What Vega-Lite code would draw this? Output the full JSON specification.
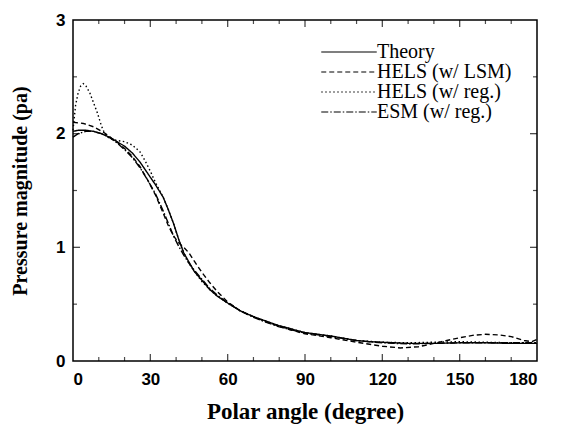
{
  "$schema": "https://vega.github.io/schema/vega-lite/v6.json",
  "width": 464,
  "height": 341,
  "autosize": "none",
  "padding": {"left": 73, "top": 20, "right": 25, "bottom": 65},
  "config": {
    "view": {"stroke": "black", "strokeWidth": 1.5},
    "axis": {"domain": false, "ticks": false, "grid": false, "labelColor": "black", "titleColor": "black"}
  },
  "datasets": {
    "xmajor": [{"v": 30}, {"v": 60}, {"v": 90}, {"v": 120}, {"v": 150}],
    "xminor": [{"v": 10}, {"v": 20}, {"v": 40}, {"v": 50}, {"v": 70}, {"v": 80}, {"v": 100}, {"v": 110}, {"v": 130}, {"v": 140}, {"v": 160}, {"v": 170}],
    "ymajor": [{"v": 1}, {"v": 2}],
    "yminor": [{"v": 0.5}, {"v": 1.5}, {"v": 2.5}],
    "curves": [
      {"s": "Theory", "a": 0, "p": 2.02}, {"s": "Theory", "a": 2, "p": 2.03}, {"s": "Theory", "a": 5, "p": 2.03}, {"s": "Theory", "a": 8, "p": 2.02}, {"s": "Theory", "a": 11, "p": 2.0}, {"s": "Theory", "a": 14, "p": 1.97}, {"s": "Theory", "a": 17, "p": 1.93}, {"s": "Theory", "a": 20, "p": 1.89}, {"s": "Theory", "a": 23, "p": 1.83}, {"s": "Theory", "a": 26, "p": 1.75}, {"s": "Theory", "a": 29, "p": 1.65}, {"s": "Theory", "a": 32, "p": 1.55}, {"s": "Theory", "a": 35, "p": 1.44}, {"s": "Theory", "a": 37, "p": 1.33}, {"s": "Theory", "a": 39, "p": 1.21}, {"s": "Theory", "a": 41, "p": 1.07}, {"s": "Theory", "a": 43, "p": 0.95}, {"s": "Theory", "a": 45, "p": 0.87}, {"s": "Theory", "a": 47, "p": 0.79}, {"s": "Theory", "a": 50, "p": 0.71}, {"s": "Theory", "a": 53, "p": 0.63}, {"s": "Theory", "a": 56, "p": 0.57}, {"s": "Theory", "a": 60, "p": 0.51}, {"s": "Theory", "a": 65, "p": 0.44}, {"s": "Theory", "a": 70, "p": 0.39}, {"s": "Theory", "a": 75, "p": 0.35}, {"s": "Theory", "a": 80, "p": 0.31}, {"s": "Theory", "a": 85, "p": 0.28}, {"s": "Theory", "a": 90, "p": 0.25}, {"s": "Theory", "a": 95, "p": 0.235}, {"s": "Theory", "a": 100, "p": 0.22}, {"s": "Theory", "a": 105, "p": 0.2}, {"s": "Theory", "a": 110, "p": 0.18}, {"s": "Theory", "a": 115, "p": 0.17}, {"s": "Theory", "a": 120, "p": 0.165}, {"s": "Theory", "a": 130, "p": 0.155}, {"s": "Theory", "a": 140, "p": 0.155}, {"s": "Theory", "a": 150, "p": 0.16}, {"s": "Theory", "a": 160, "p": 0.16}, {"s": "Theory", "a": 170, "p": 0.155}, {"s": "Theory", "a": 180, "p": 0.155},

      {"s": "HELS (w/ LSM)", "a": 0, "p": 2.1}, {"s": "HELS (w/ LSM)", "a": 4, "p": 2.09}, {"s": "HELS (w/ LSM)", "a": 8, "p": 2.06}, {"s": "HELS (w/ LSM)", "a": 12, "p": 2.01}, {"s": "HELS (w/ LSM)", "a": 15, "p": 1.96}, {"s": "HELS (w/ LSM)", "a": 18, "p": 1.91}, {"s": "HELS (w/ LSM)", "a": 20, "p": 1.87}, {"s": "HELS (w/ LSM)", "a": 23, "p": 1.8}, {"s": "HELS (w/ LSM)", "a": 26, "p": 1.71}, {"s": "HELS (w/ LSM)", "a": 29, "p": 1.59}, {"s": "HELS (w/ LSM)", "a": 32, "p": 1.46}, {"s": "HELS (w/ LSM)", "a": 35, "p": 1.3}, {"s": "HELS (w/ LSM)", "a": 37, "p": 1.19}, {"s": "HELS (w/ LSM)", "a": 39, "p": 1.1}, {"s": "HELS (w/ LSM)", "a": 41, "p": 1.04}, {"s": "HELS (w/ LSM)", "a": 43, "p": 1.0}, {"s": "HELS (w/ LSM)", "a": 45, "p": 0.95}, {"s": "HELS (w/ LSM)", "a": 47, "p": 0.88}, {"s": "HELS (w/ LSM)", "a": 50, "p": 0.78}, {"s": "HELS (w/ LSM)", "a": 53, "p": 0.69}, {"s": "HELS (w/ LSM)", "a": 56, "p": 0.61}, {"s": "HELS (w/ LSM)", "a": 60, "p": 0.52}, {"s": "HELS (w/ LSM)", "a": 65, "p": 0.44}, {"s": "HELS (w/ LSM)", "a": 70, "p": 0.39}, {"s": "HELS (w/ LSM)", "a": 75, "p": 0.345}, {"s": "HELS (w/ LSM)", "a": 80, "p": 0.305}, {"s": "HELS (w/ LSM)", "a": 85, "p": 0.27}, {"s": "HELS (w/ LSM)", "a": 90, "p": 0.24}, {"s": "HELS (w/ LSM)", "a": 100, "p": 0.205}, {"s": "HELS (w/ LSM)", "a": 110, "p": 0.165}, {"s": "HELS (w/ LSM)", "a": 120, "p": 0.13}, {"s": "HELS (w/ LSM)", "a": 127, "p": 0.115}, {"s": "HELS (w/ LSM)", "a": 134, "p": 0.125}, {"s": "HELS (w/ LSM)", "a": 140, "p": 0.155}, {"s": "HELS (w/ LSM)", "a": 145, "p": 0.18}, {"s": "HELS (w/ LSM)", "a": 150, "p": 0.205}, {"s": "HELS (w/ LSM)", "a": 155, "p": 0.225}, {"s": "HELS (w/ LSM)", "a": 160, "p": 0.235}, {"s": "HELS (w/ LSM)", "a": 165, "p": 0.23}, {"s": "HELS (w/ LSM)", "a": 170, "p": 0.215}, {"s": "HELS (w/ LSM)", "a": 175, "p": 0.18}, {"s": "HELS (w/ LSM)", "a": 178, "p": 0.17}, {"s": "HELS (w/ LSM)", "a": 180, "p": 0.19},

      {"s": "HELS (w/ reg.)", "a": 0, "p": 2.03}, {"s": "HELS (w/ reg.)", "a": 1, "p": 2.25}, {"s": "HELS (w/ reg.)", "a": 2, "p": 2.36}, {"s": "HELS (w/ reg.)", "a": 3, "p": 2.42}, {"s": "HELS (w/ reg.)", "a": 4, "p": 2.44}, {"s": "HELS (w/ reg.)", "a": 5, "p": 2.42}, {"s": "HELS (w/ reg.)", "a": 6.5, "p": 2.36}, {"s": "HELS (w/ reg.)", "a": 8, "p": 2.27}, {"s": "HELS (w/ reg.)", "a": 9.5, "p": 2.18}, {"s": "HELS (w/ reg.)", "a": 11, "p": 2.07}, {"s": "HELS (w/ reg.)", "a": 12.5, "p": 1.99}, {"s": "HELS (w/ reg.)", "a": 14, "p": 1.96}, {"s": "HELS (w/ reg.)", "a": 17, "p": 1.94}, {"s": "HELS (w/ reg.)", "a": 20, "p": 1.93}, {"s": "HELS (w/ reg.)", "a": 23, "p": 1.9}, {"s": "HELS (w/ reg.)", "a": 26, "p": 1.84}, {"s": "HELS (w/ reg.)", "a": 28, "p": 1.76}, {"s": "HELS (w/ reg.)", "a": 30, "p": 1.67}, {"s": "HELS (w/ reg.)", "a": 32, "p": 1.57}, {"s": "HELS (w/ reg.)", "a": 35, "p": 1.44}, {"s": "HELS (w/ reg.)", "a": 37, "p": 1.33}, {"s": "HELS (w/ reg.)", "a": 39, "p": 1.21}, {"s": "HELS (w/ reg.)", "a": 41, "p": 1.07}, {"s": "HELS (w/ reg.)", "a": 43, "p": 0.95}, {"s": "HELS (w/ reg.)", "a": 45, "p": 0.86}, {"s": "HELS (w/ reg.)", "a": 47, "p": 0.79}, {"s": "HELS (w/ reg.)", "a": 50, "p": 0.7}, {"s": "HELS (w/ reg.)", "a": 53, "p": 0.63}, {"s": "HELS (w/ reg.)", "a": 56, "p": 0.57}, {"s": "HELS (w/ reg.)", "a": 60, "p": 0.51}, {"s": "HELS (w/ reg.)", "a": 65, "p": 0.44}, {"s": "HELS (w/ reg.)", "a": 70, "p": 0.39}, {"s": "HELS (w/ reg.)", "a": 75, "p": 0.35}, {"s": "HELS (w/ reg.)", "a": 80, "p": 0.31}, {"s": "HELS (w/ reg.)", "a": 90, "p": 0.25}, {"s": "HELS (w/ reg.)", "a": 100, "p": 0.22}, {"s": "HELS (w/ reg.)", "a": 110, "p": 0.18}, {"s": "HELS (w/ reg.)", "a": 120, "p": 0.165}, {"s": "HELS (w/ reg.)", "a": 130, "p": 0.16}, {"s": "HELS (w/ reg.)", "a": 140, "p": 0.165}, {"s": "HELS (w/ reg.)", "a": 150, "p": 0.17}, {"s": "HELS (w/ reg.)", "a": 160, "p": 0.165}, {"s": "HELS (w/ reg.)", "a": 170, "p": 0.16}, {"s": "HELS (w/ reg.)", "a": 180, "p": 0.16},

      {"s": "ESM (w/ reg.)", "a": 0, "p": 1.97}, {"s": "ESM (w/ reg.)", "a": 2, "p": 2.0}, {"s": "ESM (w/ reg.)", "a": 5, "p": 2.02}, {"s": "ESM (w/ reg.)", "a": 8, "p": 2.02}, {"s": "ESM (w/ reg.)", "a": 11, "p": 2.0}, {"s": "ESM (w/ reg.)", "a": 14, "p": 1.97}, {"s": "ESM (w/ reg.)", "a": 17, "p": 1.92}, {"s": "ESM (w/ reg.)", "a": 20, "p": 1.86}, {"s": "ESM (w/ reg.)", "a": 23, "p": 1.79}, {"s": "ESM (w/ reg.)", "a": 26, "p": 1.7}, {"s": "ESM (w/ reg.)", "a": 29, "p": 1.59}, {"s": "ESM (w/ reg.)", "a": 32, "p": 1.47}, {"s": "ESM (w/ reg.)", "a": 35, "p": 1.32}, {"s": "ESM (w/ reg.)", "a": 37, "p": 1.21}, {"s": "ESM (w/ reg.)", "a": 39, "p": 1.1}, {"s": "ESM (w/ reg.)", "a": 41, "p": 1.01}, {"s": "ESM (w/ reg.)", "a": 43, "p": 0.93}, {"s": "ESM (w/ reg.)", "a": 45, "p": 0.86}, {"s": "ESM (w/ reg.)", "a": 47, "p": 0.8}, {"s": "ESM (w/ reg.)", "a": 50, "p": 0.72}, {"s": "ESM (w/ reg.)", "a": 53, "p": 0.64}, {"s": "ESM (w/ reg.)", "a": 56, "p": 0.58}, {"s": "ESM (w/ reg.)", "a": 60, "p": 0.51}, {"s": "ESM (w/ reg.)", "a": 65, "p": 0.44}, {"s": "ESM (w/ reg.)", "a": 70, "p": 0.385}, {"s": "ESM (w/ reg.)", "a": 75, "p": 0.34}, {"s": "ESM (w/ reg.)", "a": 80, "p": 0.3}, {"s": "ESM (w/ reg.)", "a": 90, "p": 0.245}, {"s": "ESM (w/ reg.)", "a": 100, "p": 0.215}, {"s": "ESM (w/ reg.)", "a": 110, "p": 0.18}, {"s": "ESM (w/ reg.)", "a": 120, "p": 0.16}, {"s": "ESM (w/ reg.)", "a": 130, "p": 0.15}, {"s": "ESM (w/ reg.)", "a": 140, "p": 0.155}, {"s": "ESM (w/ reg.)", "a": 150, "p": 0.16}, {"s": "ESM (w/ reg.)", "a": 160, "p": 0.16}, {"s": "ESM (w/ reg.)", "a": 170, "p": 0.16}, {"s": "ESM (w/ reg.)", "a": 180, "p": 0.16}
    ]
  },
  "resolve": {"axis": {"x": "independent", "y": "independent"}},
  "layer": [
    {
      "data": {"name": "curves"},
      "mark": {"type": "line", "color": "black", "strokeWidth": 1.4},
      "encoding": {
        "x": {"field": "a", "type": "quantitative", "scale": {"domain": [0, 180], "nice": false},
          "axis": {"orient": "bottom", "values": [0, 30, 60, 90, 120, 150, 180], "labelPadding": 10,
            "labelFont": "Liberation Sans", "labelFontWeight": "bold", "labelFontSize": 17,
            "title": "Polar angle (degree)", "titleFont": "Liberation Serif", "titleFontWeight": "bold", "titleFontSize": 23, "titlePadding": 13}},
        "y": {"field": "p", "type": "quantitative", "scale": {"domain": [0, 3], "nice": false},
          "axis": {"orient": "left", "values": [0, 1, 2, 3], "labelPadding": 8,
            "labelFont": "Liberation Sans", "labelFontWeight": "bold", "labelFontSize": 17,
            "title": "Pressure magnitude (pa)", "titleFont": "Liberation Serif", "titleFontWeight": "bold", "titleFontSize": 20, "titlePadding": 25}},
        "strokeDash": {"field": "s", "type": "nominal",
          "scale": {"domain": ["Theory", "HELS (w/ LSM)", "HELS (w/ reg.)", "ESM (w/ reg.)"],
            "range": [[1, 0], [5, 3], [1.5, 2.5], [7, 2, 1.5, 2]]},
          "legend": {"title": null, "orient": "none", "legendX": 266, "legendY": 22,
            "symbolType": "M-3.7,0H3.7", "symbolSize": 225, "symbolStrokeWidth": 1.2, "symbolStrokeColor": "black", "symbolFillColor": "transparent",
            "labelFont": "Liberation Serif", "labelFontSize": 20, "labelColor": "black", "labelOffset": 18, "rowPadding": -2}}
      }
    },
    {
      "data": {"name": "xmajor"},
      "mark": {"type": "tick", "orient": "vertical", "color": "black", "size": 7, "thickness": 1.3, "yOffset": -3.5},
      "encoding": {"x": {"field": "v", "type": "quantitative", "axis": null}, "y": {"datum": 0, "type": "quantitative", "axis": null}}
    },
    {
      "data": {"name": "xminor"},
      "mark": {"type": "tick", "orient": "vertical", "color": "black", "size": 4, "thickness": 1.2, "yOffset": -2},
      "encoding": {"x": {"field": "v", "type": "quantitative", "axis": null}, "y": {"datum": 0, "type": "quantitative", "axis": null}}
    },
    {
      "data": {"name": "xmajor"},
      "mark": {"type": "tick", "orient": "vertical", "color": "black", "size": 7, "thickness": 1.3, "yOffset": 3.5},
      "encoding": {"x": {"field": "v", "type": "quantitative", "axis": null}, "y": {"datum": 3, "type": "quantitative", "axis": null}}
    },
    {
      "data": {"name": "xminor"},
      "mark": {"type": "tick", "orient": "vertical", "color": "black", "size": 4, "thickness": 1.2, "yOffset": 2},
      "encoding": {"x": {"field": "v", "type": "quantitative", "axis": null}, "y": {"datum": 3, "type": "quantitative", "axis": null}}
    },
    {
      "data": {"name": "ymajor"},
      "mark": {"type": "tick", "orient": "horizontal", "color": "black", "size": 7, "thickness": 1.3, "xOffset": 3.5},
      "encoding": {"y": {"field": "v", "type": "quantitative", "axis": null}, "x": {"datum": 0, "type": "quantitative", "axis": null}}
    },
    {
      "data": {"name": "yminor"},
      "mark": {"type": "tick", "orient": "horizontal", "color": "black", "size": 4, "thickness": 1.2, "xOffset": 2},
      "encoding": {"y": {"field": "v", "type": "quantitative", "axis": null}, "x": {"datum": 0, "type": "quantitative", "axis": null}}
    },
    {
      "data": {"name": "ymajor"},
      "mark": {"type": "tick", "orient": "horizontal", "color": "black", "size": 7, "thickness": 1.3, "xOffset": -3.5},
      "encoding": {"y": {"field": "v", "type": "quantitative", "axis": null}, "x": {"datum": 180, "type": "quantitative", "axis": null}}
    },
    {
      "data": {"name": "yminor"},
      "mark": {"type": "tick", "orient": "horizontal", "color": "black", "size": 4, "thickness": 1.2, "xOffset": -2},
      "encoding": {"y": {"field": "v", "type": "quantitative", "axis": null}, "x": {"datum": 180, "type": "quantitative", "axis": null}}
    }
  ]
}
